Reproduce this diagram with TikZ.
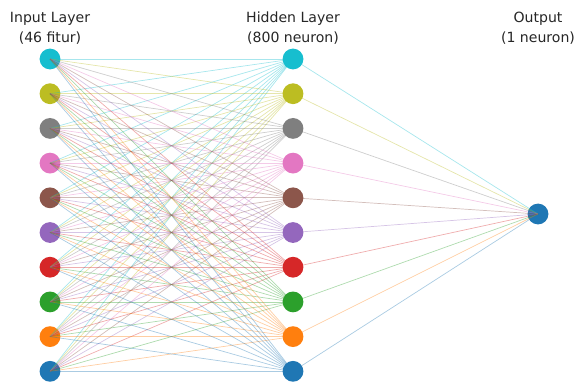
\documentclass[tikz,border=0pt]{standalone}
\usepackage{fontspec}
\setmainfont{DejaVu Sans}
\usetikzlibrary{positioning}

\definecolor{tcyan}{HTML}{17BECF}
\definecolor{tolive}{HTML}{BCBD22}
\definecolor{tgray}{HTML}{7F7F7F}
\definecolor{tpink}{HTML}{E377C2}
\definecolor{tbrown}{HTML}{8C564B}
\definecolor{tpurple}{HTML}{9467BD}
\definecolor{tred}{HTML}{D62728}
\definecolor{tgreen}{HTML}{2CA02C}
\definecolor{torange}{HTML}{FF7F0E}
\definecolor{tblue}{HTML}{1F77B4}

\pgfdeclarelayer{back}
\pgfdeclarelayer{mid}
\pgfsetlayers{back,mid,main}

\tikzset{
  neuron/.style={circle, fill=#1, draw=none, minimum size=0.52cm, inner sep=0pt},
  link/.style={draw=#1, line width=0.5pt, opacity=0.38},
  lbl/.style={align=center, font=\fontsize{10}{14.2}\selectfont, text=black!85}
}

\begin{document}
\begin{tikzpicture}[x=0.025cm, y=-0.025cm]
    \useasboundingbox (0,0) rectangle (576,381);

    % hidden layer
    \foreach \n/\c in {1/tcyan,2/tolive,3/tgray,4/tpink,5/tbrown,6/tpurple,7/tred,8/tgreen,9/torange,10/tblue}
        \node[neuron=\c] (h\n) at (293,{59+(\n-1)*34.7}) {};

    \begin{pgfonlayer}{back}
    % input layer
    \foreach \n/\c in {1/tcyan,2/tolive,3/tgray,4/tpink,5/tbrown,6/tpurple,7/tred,8/tgreen,9/torange,10/tblue}
        \node[neuron=\c] (i\n) at (50,{59+(\n-1)*34.7}) {};
    % output
    \node[neuron=tblue] (out) at (538,214) {};
    \end{pgfonlayer}

    % connections
    \begin{pgfonlayer}{mid}
    \foreach \j/\c in {1/tcyan,2/tolive,3/tgray,4/tpink,5/tbrown,6/tpurple,7/tred,8/tgreen,9/torange,10/tblue}{
        \foreach \i in {1,...,10}
            \draw[link=\c] (i\i.center) -- (h\j.center);
        \draw[link=\c] (h\j.center) -- (out.center);
    }
    \end{pgfonlayer}

    \node[lbl] (tin) at (50,28) {Input Layer\\(46 fitur)};
    \node[lbl] (thid) at (293,28) {Hidden Layer\\(800 neuron)};
    \node[lbl] (tout) at (538,28) {Output\\(1 neuron)};
\end{tikzpicture}
\end{document}
